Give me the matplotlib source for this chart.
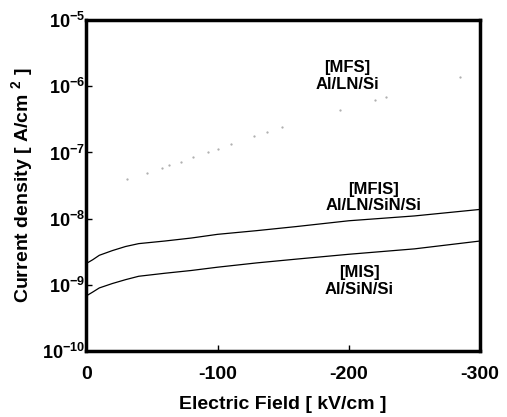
import matplotlib
matplotlib.use("Agg")
import matplotlib.pyplot as plt
import numpy as np

plt.rcParams['font.family'] = ['Liberation Sans', 'DejaVu Sans']
plt.rcParams['font.weight'] = 'bold'
plt.rcParams['mathtext.fontset'] = 'custom'
plt.rcParams['mathtext.rm'] = 'Liberation Sans:bold'
plt.rcParams['mathtext.bf'] = 'Liberation Sans:bold'
plt.rcParams['mathtext.it'] = 'Liberation Sans:bold'

# MFIS: Al/LN/SiN/Si
mfis_field = [0, -5, -10, -20, -30, -40, -60, -80, -100, -130, -160, -200, -250, -300]
mfis_j = [2.1e-9, 2.4e-9, 2.8e-9, 3.3e-9, 3.8e-9, 4.2e-9, 4.6e-9, 5.1e-9, 5.8e-9, 6.6e-9, 7.6e-9, 9.3e-9, 1.1e-8, 1.38e-8]
# MIS: Al/SiN/Si
mis_field = [0, 0, -5, -10, -20, -30, -40, -60, -80, -100, -130, -160, -200, -250, -300]
mis_j = [5.5e-10, 6.8e-10, 7.8e-10, 9.0e-10, 1.05e-9, 1.2e-9, 1.35e-9, 1.5e-9, 1.65e-9, 1.85e-9, 2.15e-9, 2.45e-9, 2.9e-9, 3.5e-9, 4.6e-9]
# MFS: Al/LN/Si (sparse faint dots)
mfs_field = [-31, -46, -58, -63, -72, -81, -93, -100, -110, -128, -138, -149, -193, -220, -228, -285]
mfs_j = [4.0e-8, 4.9e-8, 5.8e-8, 6.5e-8, 7.1e-8, 8.5e-8, 1.0e-7, 1.12e-7, 1.35e-7, 1.78e-7, 2.04e-7, 2.4e-7, 4.4e-7, 6.2e-7, 6.9e-7, 1.38e-6]

xticks = [0, -100, -200, -300]
xticklabels = ['0', '-100', '-200', '-300']
yticks = [1e-10, 1e-9, 1e-8, 1e-7, 1e-6, 1e-5]
yticklabels = [r'$10^{-10}$', r'$10^{-9}$', r'$10^{-8}$', r'$10^{-7}$', r'$10^{-6}$', r'$10^{-5}$']

fig = plt.figure(figsize=(5.07, 4.17), dpi=100)
ax = fig.add_axes([0.170, 0.158, 0.777, 0.794])

ax.plot(mfis_field, mfis_j, color='black', lw=0.9)
ax.plot(mis_field, mis_j, color='black', lw=0.9)
ax.plot(mfs_field, mfs_j, linestyle='none', marker='.', markersize=1.2, color='#aaaaaa')

ax.set_yscale('log')
ax.set_xlim(0, -300)
ax.set_ylim(1e-10, 1e-5)
ax.set_xticks(xticks)
ax.set_xticklabels(xticklabels, fontsize=14, fontweight='bold')
ax.set_yticks(yticks)
ax.set_yticklabels(yticklabels, fontsize=13)
ax.minorticks_off()
ax.tick_params(axis='both', direction='in', length=4, width=1)
ax.tick_params(axis='x', pad=11)
ax.tick_params(axis='y', pad=1)
for s in ax.spines.values():
    s.set_linewidth(2.5)

ax.set_xlabel('Electric Field [ kV/cm ]', fontsize=14, fontweight='bold', labelpad=9)
ax.set_ylabel(r'Current density [ A/cm $^{2}$ ]', fontsize=14, fontweight='bold', labelpad=5)

ax.text(-199, 10**-5.85, '[MFS]\nAl/LN/Si', ha='center', va='center', fontsize=12,
        fontweight='bold', multialignment='center', linespacing=1.15)
ax.text(-219, 10**-7.68, '[MFIS]\nAl/LN/SiN/Si', ha='center', va='center', fontsize=12,
        fontweight='bold', multialignment='center', linespacing=1.15)
ax.text(-208, 10**-8.94, '[MIS]\nAl/SiN/Si', ha='center', va='center', fontsize=12,
        fontweight='bold', multialignment='center', linespacing=1.15)

fig.savefig('out.png', dpi=100)
